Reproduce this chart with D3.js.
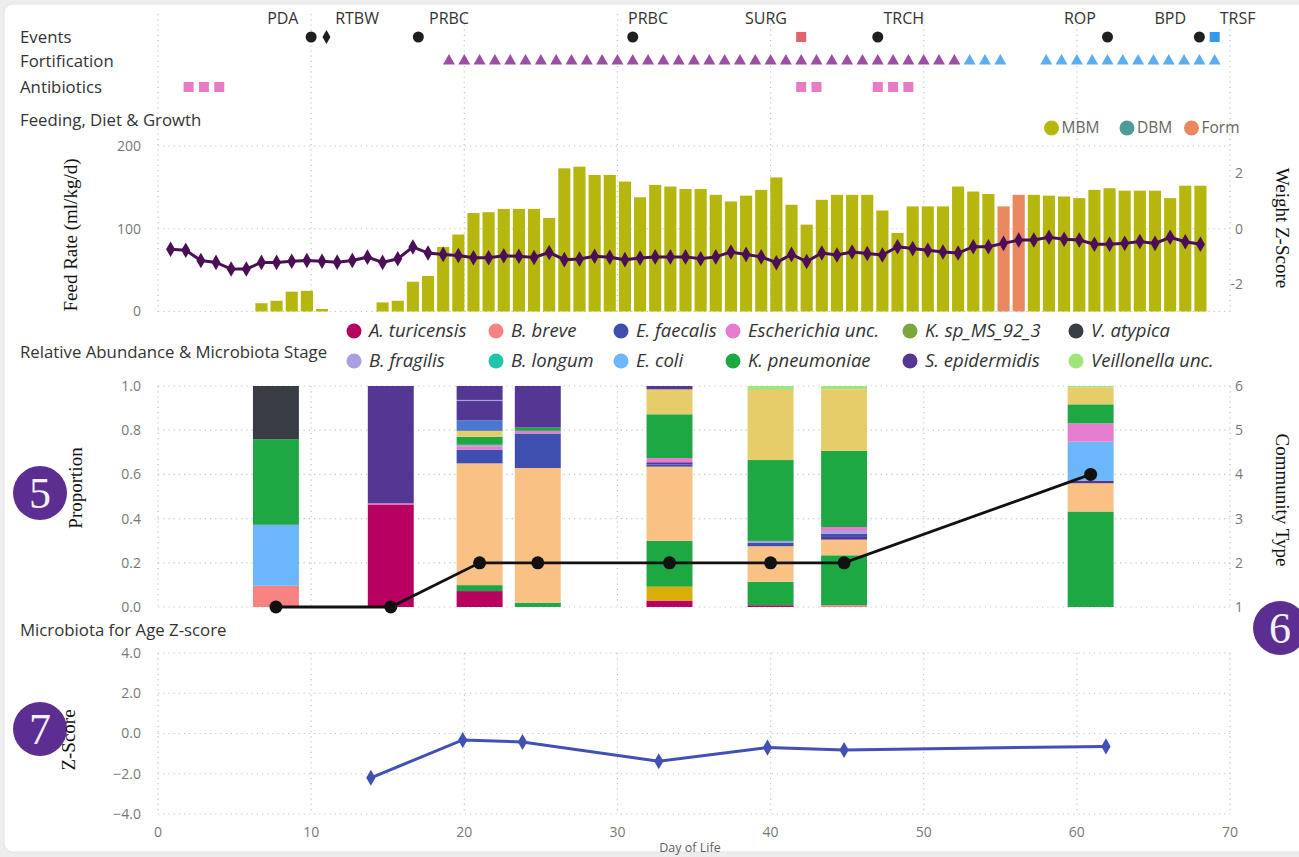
<!DOCTYPE html>
<html><head><meta charset="utf-8">
<script src="https://cdn.jsdelivr.net/npm/d3@7"></script>
<style>
body{margin:0;background:#fff;}
svg{display:block;font-family:"Open Sans","Noto Sans",sans-serif;}
</style>
</head><body>
<svg id="c" width="1299" height="857"></svg>
<script>
// ---------------- DATA ----------------
const eventLabels = ["PDA","RTBW","PRBC","PRBC","SURG","TRCH","ROP","BPD","TRSF"];
const eventLabelDays = [8.15, 13.0, 19.0, 32.0, 39.7, 48.7, 60.2, 66.1, 70.5];
const eventDays = [10, 11, 17, 31, 42, 47, 62, 68, 69];
const eventShapes = ["circle","diamond","circle","circle","square","circle","circle","circle","square"];
const eventColors = ["#1f1f1f","#1f1f1f","#1f1f1f","#1f1f1f","#e0646a","#1f1f1f","#1f1f1f","#1f1f1f","#3399ee"];

const fortDays = [19,20,21,22,23,24,25,26,27,28,29,30,31,32,33,34,35,36,37,38,39,40,41,42,43,44,45,46,47,48,49,50,51,52,
                  53,54,55, 58,59,60,61,62,63,64,65,66,67,68,69];
const fortKind = ["P","P","P","P","P","P","P","P","P","P","P","P","P","P","P","P","P","P","P","P","P","P","P","P","P","P","P","P","P","P","P","P","P","P",
                  "B","B","B","B","B","B","B","B","B","B","B","B","B","B","B"];
const antibioticDays = [2, 3, 4, 42, 43, 47, 48, 49];

const weightDays = [1,2,3,4,5,6,7,8,9,10,11,12,13,14,15,16,17,18,19,20,21,22,23,24,25,26,27,28,29,30,31,32,33,34,35,
                    36,37,38,39,40,41,42,43,44,45,46,47,48,49,50,51,52,53,54,55,56,57,58,59,60,61,62,63,64,65,66,67,68,69];
const weightZ = [-0.74,-0.78,-1.15,-1.22,-1.46,-1.46,-1.22,-1.22,-1.18,-1.15,-1.18,-1.21,-1.15,-1.03,-1.22,-1.09,-0.66,-0.88,-0.93,-0.97,
                 -1.05,-1.05,-0.98,-1.00,-1.04,-0.86,-1.12,-1.10,-1.00,-1.03,-1.12,-1.06,-1.02,-1.02,-1.02,-1.09,-1.02,-0.84,-0.93,-1.02,
                 -1.23,-0.93,-1.19,-0.88,-0.95,-0.84,-0.90,-0.95,-0.65,-0.72,-0.78,-0.84,-0.88,-0.65,-0.65,-0.53,-0.41,-0.41,-0.31,-0.38,
                 -0.41,-0.56,-0.56,-0.53,-0.46,-0.53,-0.31,-0.47,-0.56];

const feedDays = [7,8,9,10,11,15,16,17,18,19,20,21,22,23,24,25,26,27,28,29,30,31,32,33,34,35,36,37,38,39,40,41,42,43,44,45,
                  46,47,48,49,50,51,52,53,54,55,56,57,58,59,60,61,62,63,64,65,66,67,68,69];
const feedRate = [10,13,24,25,3,11,13,36,43,78,93,119,120,124,124,124,113,173,175,165,165,157,138,153,151,148,148,141,133,140,
                  147,162,129,105,135,141,141,141,122,95,127,127,127,151,145,142,127,141,141,140,139,137,147,149,146,146,146,137,152,152];
const feedType = ["MBM","MBM","MBM","MBM","MBM","MBM","MBM","MBM","MBM","MBM","MBM","MBM","MBM","MBM","MBM","MBM","MBM","MBM","MBM","MBM",
                  "MBM","MBM","MBM","MBM","MBM","MBM","MBM","MBM","MBM","MBM","MBM","MBM","MBM","MBM","MBM","MBM","MBM","MBM","MBM","MBM",
                  "MBM","MBM","MBM","MBM","MBM","MBM","Form","Form","MBM","MBM","MBM","MBM","MBM","MBM","MBM","MBM","MBM","MBM","MBM","MBM"];
const dietNames = ["MBM","DBM","Form"];
const dietColors = ["#b5b70e","#4e9c9a","#e9875e"];

const speciesNames = ["A. turicensis","B. fragilis","B. breve","B. longum","E. faecalis","E. coli","Escherichia unc.",
                      "K. pneumoniae","K. sp_MS_92_3","S. epidermidis","V. atypica","Veillonella unc.",
                      "Other 1","Other 2","Other 3","Other 4"];
const speciesColors = ["#b7005f","#a99ee0","#f78282","#1fc4ad","#3e4fb0","#6cb6fb","#e57cd0",
                       "#1ea843","#7aa83a","#533792","#383c45","#a2e47c",
                       "#f9c183","#e6cd6a","#d9ae07","#4a78cf"];
const legendSpeciesCount = 12;

const sampleDays = [7.7, 15.2, 21.0, 24.8, 33.4, 40.0, 44.8, 60.9];
const communityType = [1, 1, 2, 2, 2, 2, 2, 4];
const compSpecies = [
  ["B. breve","E. coli","K. pneumoniae","V. atypica"],
  ["A. turicensis","Escherichia unc.","S. epidermidis"],
  ["A. turicensis","K. pneumoniae","Other 1","E. faecalis","Escherichia unc.","B. fragilis","K. pneumoniae","Other 2","Other 4","S. epidermidis","B. fragilis","S. epidermidis"],
  ["K. pneumoniae","Other 1","E. faecalis","Escherichia unc.","K. pneumoniae","S. epidermidis"],
  ["A. turicensis","Other 3","K. pneumoniae","Other 1","E. faecalis","S. epidermidis","Escherichia unc.","K. pneumoniae","Other 2","S. epidermidis"],
  ["A. turicensis","K. pneumoniae","Other 1","E. faecalis","B. fragilis","K. pneumoniae","Other 2","Veillonella unc."],
  ["B. breve","K. pneumoniae","Other 1","S. epidermidis","E. faecalis","B. fragilis","Escherichia unc.","K. pneumoniae","Other 2","Veillonella unc."],
  ["K. pneumoniae","Other 1","S. epidermidis","E. coli","Escherichia unc.","K. pneumoniae","Other 2","Veillonella unc."]
];
const compValues = [
  [0.096,0.276,0.387,0.241],
  [0.464,0.005,0.531],
  [0.072,0.027,0.551,0.062,0.015,0.007,0.036,0.027,0.048,0.087,0.005,0.063],
  [0.0195,0.6095,0.156,0.012,0.015,0.188],
  [0.029,0.063,0.207,0.336,0.010,0.010,0.019,0.198,0.113,0.015],
  [0.008,0.106,0.161,0.015,0.009,0.366,0.317,0.018],
  [0.008,0.226,0.071,0.012,0.015,0.012,0.018,0.345,0.278,0.015],
  [0.432,0.128,0.012,0.176,0.083,0.086,0.077,0.006]
];

const zDays = [13.9, 19.9, 23.8, 32.7, 39.8, 44.8, 61.9];
const zValues = [-2.2, -0.32, -0.42, -1.38, -0.70, -0.82, -0.64];

const xTicks = [0,10,20,30,40,50,60,70];
const feedTicks = [0,100,200];
const weightTicks = [-2,0,2];
const propTicks = [0,0.2,0.4,0.6,0.8,1.0];
const commTicks = [1,2,3,4,5,6];
const zTicks = [-4,-2,0,2,4];

// ---------------- DRAW ----------------
const svg = d3.select("#c");
const color = d3.scaleOrdinal().domain(speciesNames).range(speciesColors);
const dietColor = d3.scaleOrdinal().domain(dietNames).range(dietColors);

svg.append("rect").attr("width",1299).attr("height",857).attr("fill","#ededed");
svg.append("rect").attr("x",4).attr("y",4).attr("width",1320).attr("height",848).attr("rx",9)
   .attr("fill","#fff").attr("stroke","#e2e2e2");

const x = d3.scaleLinear().domain([0,70]).range([158,1230]);
const xBand = d3.scaleBand().domain(weightDays).range([163,1208]).paddingInner(0.2).paddingOuter(0.1);
const xb = d => xBand(d) + xBand.bandwidth()/2;

const yFeed = d3.scaleLinear().domain([0,200]).range([311.5,146]);
const yW = d3.scaleLinear().domain([-3,3]).range([311.5,146]);
const yP = d3.scaleLinear().domain([0,1]).range([607,386]);
const yC = d3.scaleLinear().domain([1,6]).range([607,386]);
const yZ = d3.scaleLinear().domain([-4,4]).range([814,653]);

const grid = svg.append("g").attr("stroke","#c4c4c4").attr("stroke-width",1.2).attr("stroke-dasharray","1.2,4");
[[14,311.5],[386,607],[653,814]].forEach(([a,b]) => {
  grid.selectAll(null).data(xTicks).enter().append("line")
    .attr("x1",d=>x(d)).attr("x2",d=>x(d)).attr("y1",a).attr("y2",b);
});
function hgrid(scale, ticks){
  grid.selectAll(null).data(ticks).enter().append("line")
    .attr("x1",x(0)).attr("x2",x(70)).attr("y1",d=>scale(d)).attr("y2",d=>scale(d));
}
hgrid(yFeed, feedTicks); hgrid(yP, propTicks); hgrid(yZ, zTicks);

// section titles
const titles = [["Events",37],["Fortification",61],["Antibiotics",87],["Feeding, Diet & Growth",120],
                ["Relative Abundance & Microbiota Stage",352],["Microbiota for Age Z-score",630]];
svg.selectAll(null).data(titles).enter().append("text")
  .attr("x",20).attr("y",d=>d[1]).attr("dy","0.35em").attr("font-size",16.8).attr("fill","#333")
  .text(d=>d[0]);

// events
svg.selectAll(null).data(eventLabels).enter().append("text")
  .attr("x",(d,i)=>x(eventLabelDays[i])).attr("y",18).attr("dy","0.35em").attr("text-anchor","middle")
  .attr("font-size",16).attr("fill","#333").text(d=>d);
const symMap = {circle:d3.symbolCircle, diamond:d3.symbolDiamond, square:d3.symbolSquare};
const symSize = {circle:95, diamond:55, square:100};
svg.selectAll(null).data(eventDays).enter().append("path")
  .attr("transform",d=>`translate(${x(d)},37)`)
  .attr("d",(d,i)=>d3.symbol().type(symMap[eventShapes[i]]).size(symSize[eventShapes[i]])())
  .attr("fill",(d,i)=>eventColors[i]);

// fortification
svg.selectAll(null).data(fortDays).enter().append("path")
  .attr("transform",d=>`translate(${x(d)},61)`)
  .attr("d",d3.symbol().type(d3.symbolTriangle).size(62)())
  .attr("fill",(d,i)=>fortKind[i]==="P" ? "#9b4ea3" : "#5aaef0");

// antibiotics
svg.selectAll(null).data(antibioticDays).enter().append("rect")
  .attr("x",d=>x(d)-5).attr("y",82).attr("width",10).attr("height",10).attr("fill","#e77cc5");

// feed legend
const dl = svg.append("g").attr("font-size",15.5);
const dlx = [1051.5,1127,1191.5];
dietNames.forEach((n,i)=>{
  dl.append("circle").attr("cx",dlx[i]).attr("cy",128).attr("r",7.5).attr("fill",dietColors[i]);
  dl.append("text").attr("x",dlx[i]+10).attr("y",128).attr("dy","0.35em").attr("fill","#666").text(n);
});

// feed bars
svg.append("g").selectAll("rect").data(feedDays).enter().append("rect")
  .attr("x",d=>xBand(d)).attr("width",xBand.bandwidth())
  .attr("y",(d,i)=>yFeed(feedRate[i])).attr("height",(d,i)=>yFeed(0)-yFeed(feedRate[i]))
  .attr("fill",(d,i)=>dietColor(feedType[i]));

// weight line
const wline = d3.line().x(d=>xb(d)).y((d,i)=>yW(weightZ[i]));
svg.append("path").datum(weightDays).attr("d",wline).attr("fill","none").attr("stroke","#4b0f57").attr("stroke-width",3);
svg.selectAll(null).data(weightDays).enter().append("path")
  .attr("transform",(d,i)=>`translate(${xb(d)},${yW(weightZ[i])})`)
  .attr("d",d3.symbol().type(d3.symbolDiamond).size(70)()).attr("fill","#4b0f57");

// axes text
function axisText(ticks, scale, xpos, anchor, fmt){
  svg.append("g").selectAll("text").data(ticks).enter().append("text")
    .attr("x",xpos).attr("y",d=>scale(d)).attr("dy","0.35em").attr("text-anchor",anchor)
    .attr("font-size",14).attr("fill","#777").text(fmt);
}
axisText(feedTicks, yFeed, 141, "end", d=>d);
axisText(weightTicks, yW, 1243, "end", d=>d);
axisText(propTicks, yP, 141, "end", d3.format(".1f"));
axisText(commTicks, yC, 1243, "end", d=>d);
axisText(zTicks, yZ, 141, "end", d3.format(".1f"));
svg.append("g").selectAll("text").data(xTicks).enter().append("text")
  .attr("x",d=>x(d)).attr("y",832).attr("dy","0.35em").attr("text-anchor","middle")
  .attr("font-size",14).attr("fill","#777").text(d=>d);
svg.append("text").attr("x",690).attr("y",848).attr("dy","0.35em").attr("text-anchor","middle")
  .attr("font-size",12.5).attr("fill","#606060").text("Day of Life");

// serif axis titles
function vtitle(t, cx, cy, rot){
  svg.append("text").attr("transform",`translate(${cx},${cy}) rotate(${rot})`).attr("text-anchor","middle")
    .attr("dy","0.35em").attr("font-family","'Liberation Serif','DejaVu Serif',serif").attr("font-size",19)
    .attr("fill","#111").text(t);
}
vtitle("Feed Rate (ml/kg/d)", 70, 235, -90);
vtitle("Weight Z-Score", 1283, 228, 90);
vtitle("Community Type", 1283, 500, 90);

// species legend
const colX = [354, 496, 621, 733, 910, 1076];
const rowY = [331, 361];
const lg = svg.append("g").attr("font-size",18.5).attr("font-style","italic");
speciesNames.slice(0, legendSpeciesCount).forEach((n,i)=>{
  const cx = colX[Math.floor(i/2)], cy = rowY[i%2];
  lg.append("circle").attr("cx",cx).attr("cy",cy).attr("r",7.5).attr("fill",color(n));
  lg.append("text").attr("x",cx+15).attr("y",cy).attr("dy","0.35em").attr("fill","#333").text(n);
});

// stacked bars
const bw = x(3) - x(0);
sampleDays.forEach((day,i)=>{
  const ends = d3.cumsum(compValues[i]);
  svg.append("g").selectAll("rect").data(compValues[i]).enter().append("rect")
    .attr("x",x(day)-bw/2).attr("width",bw)
    .attr("y",(v,j)=>yP(ends[j])).attr("height",v=>yP(0)-yP(v))
    .attr("fill",(v,j)=>color(compSpecies[i][j]));
});

// community type line
const cline = d3.line().x(d=>x(d)).y((d,i)=>yC(communityType[i]));
svg.append("path").datum(sampleDays).attr("d",cline).attr("fill","none").attr("stroke","#111").attr("stroke-width",2.8);
svg.selectAll(null).data(sampleDays).enter().append("circle")
  .attr("cx",d=>x(d)).attr("cy",(d,i)=>yC(communityType[i])).attr("r",6.5).attr("fill","#111");

// Z-score line
const zline = d3.line().x(d=>x(d)).y((d,i)=>yZ(zValues[i]));
svg.append("path").datum(zDays).attr("d",zline).attr("fill","none").attr("stroke","#4050b4").attr("stroke-width",3);
svg.selectAll(null).data(zDays).enter().append("path")
  .attr("transform",(d,i)=>`translate(${x(d)},${yZ(zValues[i])})`)
  .attr("d",d3.symbol().type(d3.symbolDiamond).size(75)()).attr("fill","#4050b4");

// numbered badges
const badges = [["5",40,493],["6",1280,628],["7",40,729]];
badges.forEach(([t,cx,cy])=>{
  svg.append("circle").attr("cx",cx).attr("cy",cy).attr("r",27).attr("fill","#5c2e91");
  svg.append("text").attr("x",cx).attr("y",cy).attr("dy","0.35em").attr("text-anchor","middle")
    .attr("font-family","'Liberation Serif',serif").attr("font-size",44).attr("fill","#f4f0f8").text(t);
});
vtitle("Proportion", 75, 488, -90);
vtitle("Z-Score", 68, 740, -90);
</script>
</body></html>
